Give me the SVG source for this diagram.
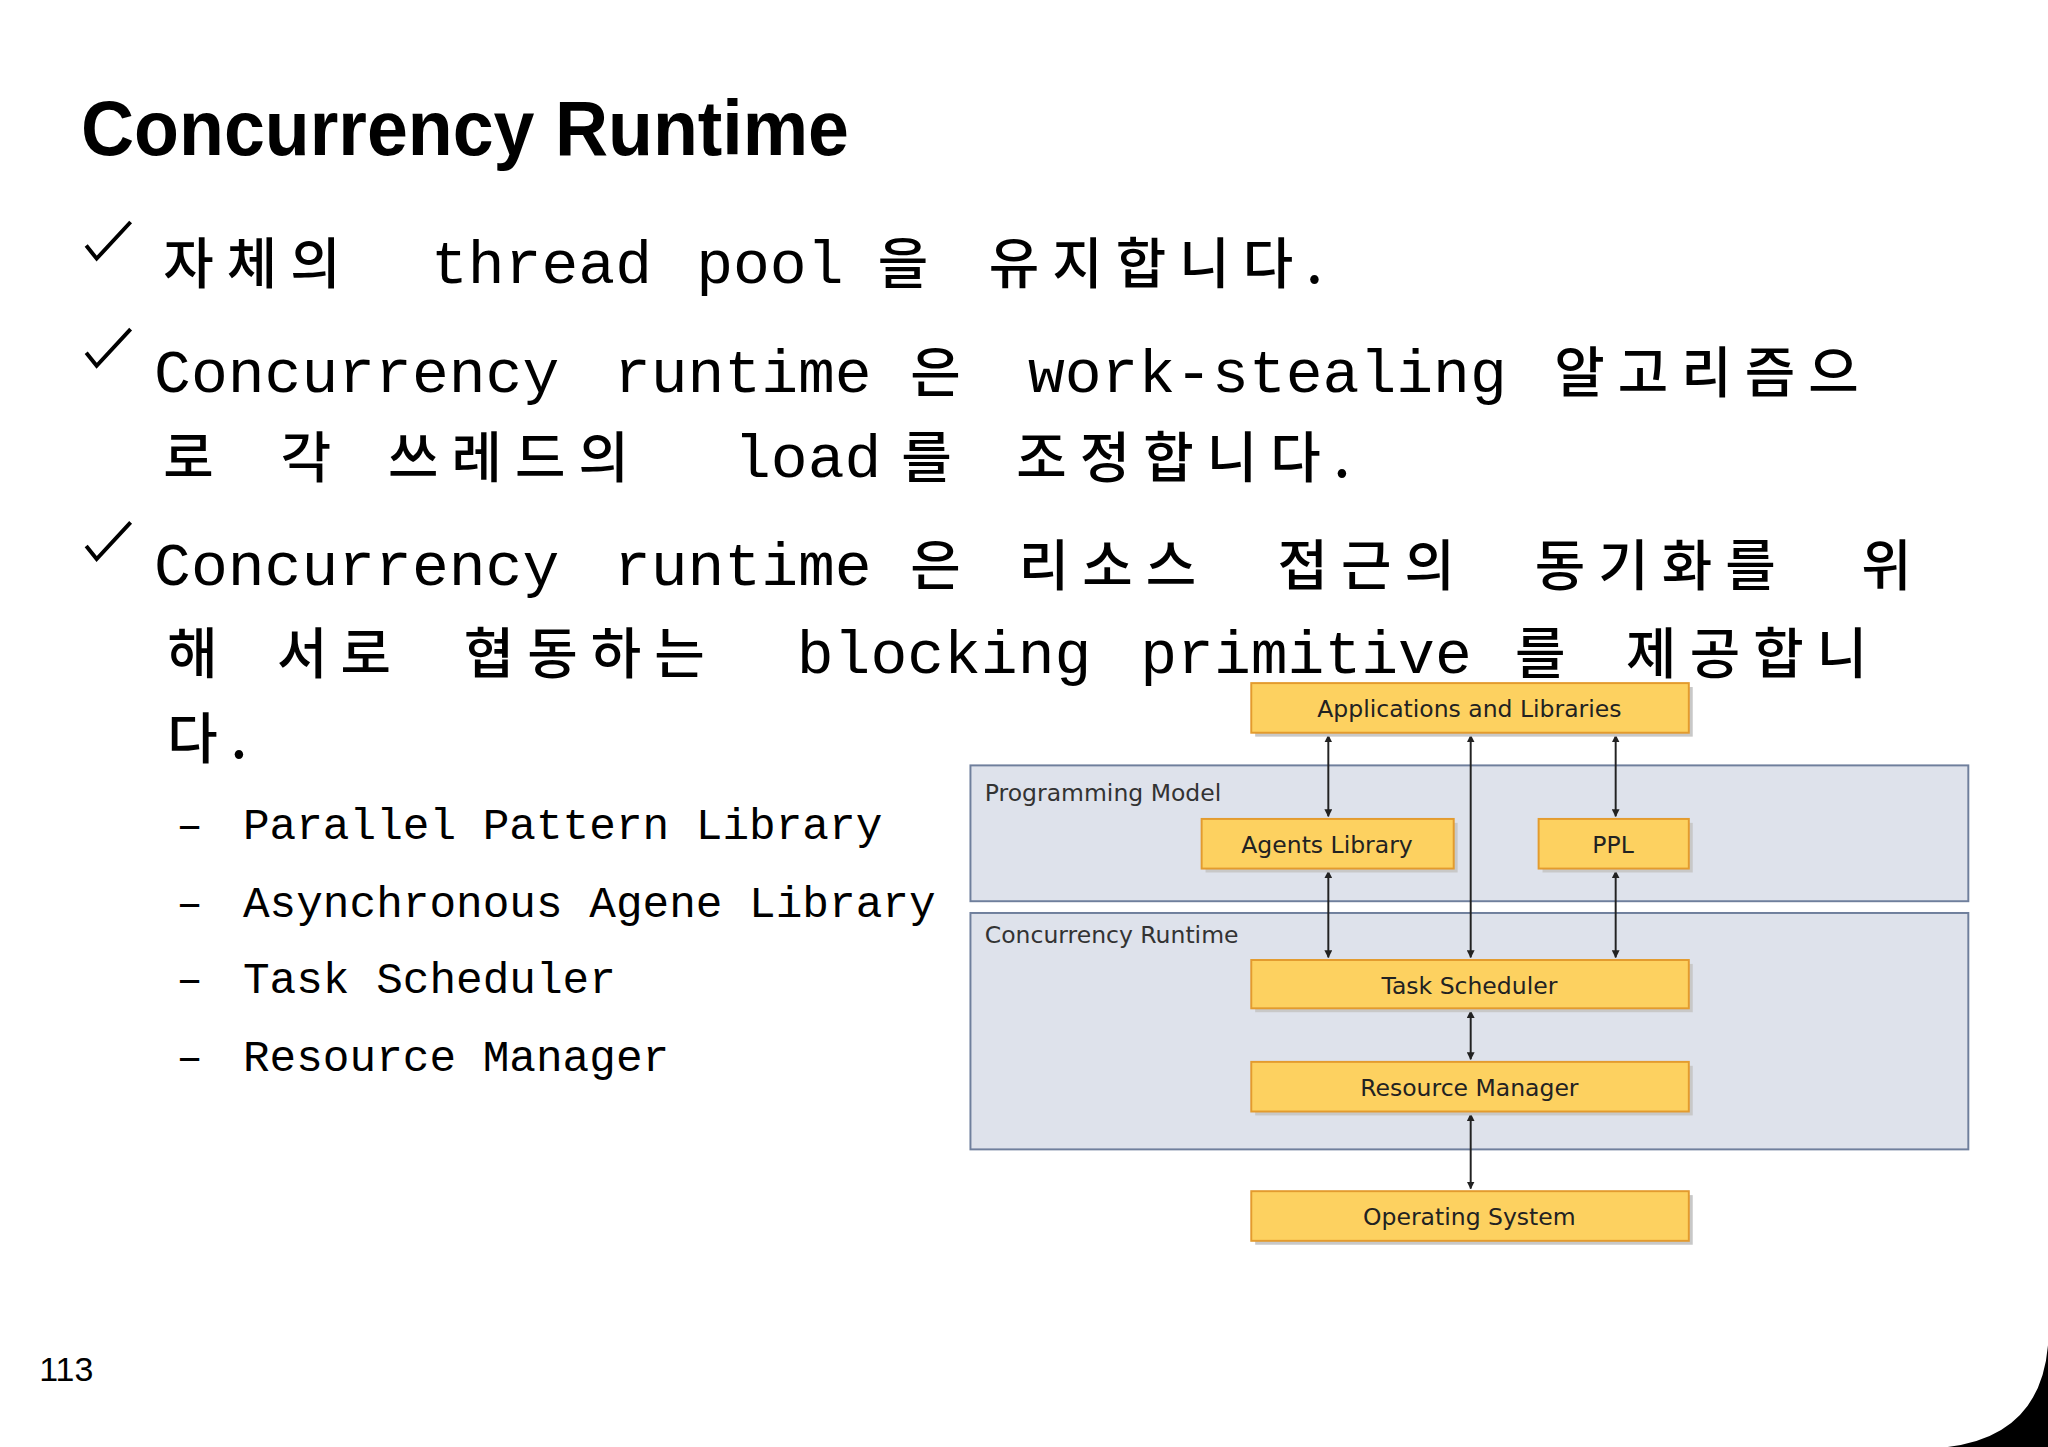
<svg xmlns="http://www.w3.org/2000/svg" width="2048" height="1447" viewBox="0 0 2048 1447">
<defs>
<style>
.t{font-family:"Liberation Sans",Arial,sans-serif;font-weight:bold;font-size:60px;fill:#000}
.m{font-family:"Liberation Mono","Noto Sans CJK KR",monospace;font-size:47px;fill:#000}
.k{font-family:"Noto Sans CJK KR",sans-serif;font-size:42px;font-weight:500;letter-spacing:10px;fill:#000}
.s{font-family:"Liberation Mono","DejaVu Sans Mono",monospace;font-size:34px;fill:#000}
.bx{fill:#fdd160;stroke:#e39b2e;stroke-width:1.5}
.sh{fill:#c8c8c8}
.pn{fill:#dee2eb;stroke:#6f7f9c;stroke-width:1.5}
.bt{font-family:"DejaVu Sans",Verdana,sans-serif;font-size:18px;fill:#222;text-anchor:middle}
.pt{font-family:"DejaVu Sans",Verdana,sans-serif;font-size:18px;fill:#333}
.ln{stroke:#222;stroke-width:1.5;fill:none;marker-start:url(#a);marker-end:url(#a)}
</style>
<marker id="a" viewBox="0 0 10 10" refX="9" refY="5" markerWidth="4" markerHeight="4" orient="auto-start-reverse"><path d="M0 0L10 5L0 10z" fill="#222"/></marker>
</defs>
<rect width="2048" height="1447" fill="#fff"/>
<g transform="scale(1.30612)">
<g id="title"><text class="t" x="62" y="119" textLength="588" lengthAdjust="spacingAndGlyphs">Concurrency Runtime</text></g>
<g id="bullets">
<path d="M66 188l8 10 26-28M66 270l8 10 26-28M66 418l8 10 26-28" stroke="#000" stroke-width="3" fill="none"/>
<text class="k" x="125" y="217">자체의</text><text class="m" x="330" y="217">thread</text><text class="m" x="533" y="217">pool</text><text class="k" x="672" y="217">을</text><text class="k" x="757" y="217">유지합니다.</text>
<text class="m" x="118" y="300">Concurrency</text><text class="m" x="470" y="300">runtime</text><text class="k" x="697" y="300">은</text><text class="m" x="787" y="300">work-stealing</text><text class="k" x="1190" y="300">알고리즘으</text>
<text class="k" x="125" y="365">로</text><text class="k" x="215" y="365">각</text><text class="k" x="297" y="365">쓰레드의</text><text class="m" x="562" y="365">load</text><text class="k" x="690" y="365">를</text><text class="k" x="778" y="365">조정합니다.</text>
<text class="m" x="118" y="448">Concurrency</text><text class="m" x="470" y="448">runtime</text><text class="k" x="697" y="448">은</text><text class="k" x="780" y="448">리소스</text><text class="k" x="978" y="448">접근의</text><text class="k" x="1175" y="448">동기화를</text><text class="k" x="1425" y="448">위</text>
<text class="k" x="128" y="515">해</text><text class="k" x="212" y="515">서로</text><text class="k" x="355" y="515">협동하는</text><text class="m" x="610" y="515">blocking</text><text class="m" x="873" y="515">primitive</text><text class="k" x="1160" y="515">를</text><text class="k" x="1245" y="515">제공합니</text>
<text class="k" x="128" y="580">다.</text>
<text class="s" x="135" y="642">– <tspan x="186">Parallel Pattern Library</tspan></text>
<text class="s" x="135" y="702">– <tspan x="186">Asynchronous Agene Library</tspan></text>
<text class="s" x="135" y="760">– <tspan x="186">Task Scheduler</tspan></text>
<text class="s" x="135" y="820">– <tspan x="186">Resource Manager</tspan></text>
</g>
<g id="panels">
<rect class="pn" x="743" y="586" width="764" height="104"/><text class="pt" x="754" y="613">Programming Model</text>
<rect class="pn" x="743" y="699" width="764" height="181"/><text class="pt" x="754" y="722">Concurrency Runtime</text>
</g>
<g id="connectors">
<line class="ln" x1="1017" y1="563" x2="1017" y2="625"/>
<line class="ln" x1="1237" y1="563" x2="1237" y2="625"/>
<line class="ln" x1="1126" y1="563" x2="1126" y2="733"/>
<line class="ln" x1="1017" y1="667" x2="1017" y2="733"/>
<line class="ln" x1="1237" y1="667" x2="1237" y2="733"/>
<line class="ln" x1="1126" y1="774" x2="1126" y2="811"/>
<line class="ln" x1="1126" y1="853" x2="1126" y2="910"/>
</g>
<g id="apps"><rect class="sh" x="961" y="526" width="335" height="38"/><rect class="bx" x="958" y="523" width="335" height="38"/><text class="bt" x="1125" y="549">Applications and Libraries</text></g>
<g id="agents"><rect class="sh" x="923" y="630" width="193" height="38"/><rect class="bx" x="920" y="627" width="193" height="38"/><text class="bt" x="1016" y="653">Agents Library</text></g>
<g id="ppl"><rect class="sh" x="1181" y="630" width="115" height="38"/><rect class="bx" x="1178" y="627" width="115" height="38"/><text class="bt" x="1235" y="653">PPL</text></g>
<g id="task"><rect class="sh" x="961" y="738" width="335" height="37"/><rect class="bx" x="958" y="735" width="335" height="37"/><text class="bt" x="1125" y="761">Task Scheduler</text></g>
<g id="resource"><rect class="sh" x="961" y="816" width="335" height="38"/><rect class="bx" x="958" y="813" width="335" height="38"/><text class="bt" x="1125" y="839">Resource Manager</text></g>
<g id="os"><rect class="sh" x="961" y="915" width="335" height="38"/><rect class="bx" x="958" y="912" width="335" height="38"/><text class="bt" x="1125" y="938">Operating System</text></g>
<text x="30" y="1057" style="font-family:'Liberation Sans',Arial,sans-serif;font-size:26px">113</text>
<path d="M1568 1030Q1562 1100 1490 1108L1568 1108Z" fill="#000"/>
</g>
</svg>
